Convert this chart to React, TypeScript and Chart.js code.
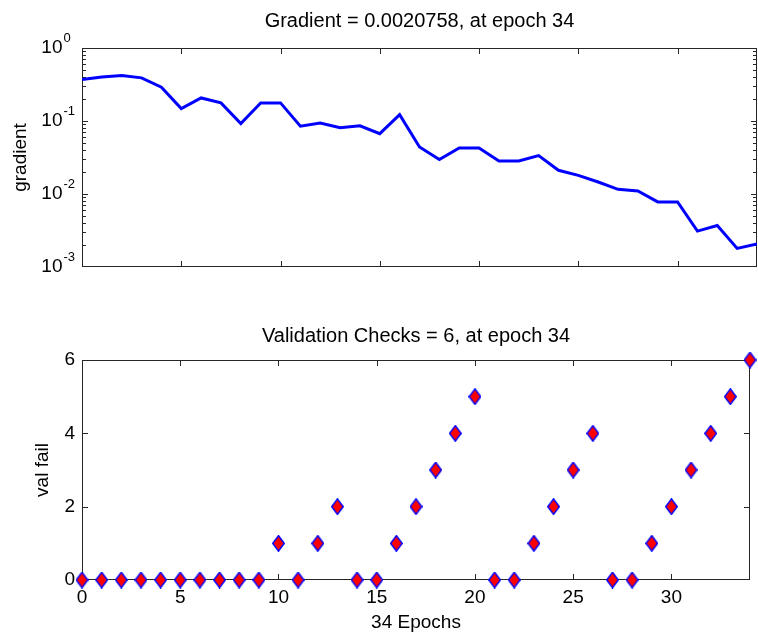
import React, { useEffect, useRef } from 'react';
import { Chart, registerables } from 'chart.js';

Chart.register(...registerables);

const FONT = "'Liberation Sans', Arial, sans-serif";

const epochs = [0, 1, 2, 3, 4, 5, 6, 7, 8, 9, 10, 11, 12, 13, 14, 15, 16, 17, 18, 19, 20, 21, 22, 23, 24, 25, 26, 27, 28, 29, 30, 31, 32, 33, 34];
const gradientValues = [
  0.37, 0.40, 0.42, 0.39, 0.29, 0.148, 0.207, 0.177, 0.092, 0.177,
  0.177, 0.085, 0.094, 0.081, 0.086, 0.067, 0.122, 0.044, 0.0296, 0.0427,
  0.0427, 0.0283, 0.0283, 0.0336, 0.0211, 0.018, 0.0146, 0.0116, 0.011, 0.0078,
  0.0078, 0.0031, 0.0037, 0.0018, 0.0020758,
];
const valFail = [0, 0, 0, 0, 0, 0, 0, 0, 0, 0, 1, 0, 1, 2, 0, 0, 1, 2, 3, 4, 5, 0, 0, 1, 2, 3, 4, 0, 0, 1, 2, 3, 4, 5, 6];
const xTicks = [0, 5, 10, 15, 20, 25, 30];
const gradExponents = [0, -1, -2, -3];
const valTicks = [0, 2, 4, 6];
const gradTitle = 'Gradient = 0.0020758, at epoch 34';
const valTitle = 'Validation Checks = 6, at epoch 34';
const gradLabel = 'gradient';
const valLabel = 'val fail';
const xLabel = '34 Epochs';

const AXIS_COLOR = '#262626';

function makeDiamond(): HTMLCanvasElement {
  const c = document.createElement('canvas');
  c.width = 13;
  c.height = 17;
  const g = c.getContext('2d')!;
  g.beginPath();
  g.moveTo(6.5, 0.75);
  g.lineTo(12.25, 8.5);
  g.lineTo(6.5, 16.25);
  g.lineTo(0.75, 8.5);
  g.closePath();
  g.fillStyle = '#ff0000';
  g.fill();
  g.strokeStyle = '#0000ff';
  g.lineWidth = 1.4;
  g.stroke();
  return c;
}

const framePlugin = {
  id: 'matlabFrame',
  beforeDatasetsDraw(chart: any, _args: any, opts: any) {
    const { ctx, chartArea } = chart;
    const { left, top, right, bottom } = chartArea;
    const xs = chart.scales.x;
    const ys = chart.scales.y;
    ctx.save();
    ctx.strokeStyle = AXIS_COLOR;
    ctx.lineWidth = 1;
    ctx.strokeRect(left + 0.5, top + 0.5, right - left - 1, bottom - top - 1);
    ctx.beginPath();
    const major = 6;
    const minor = 4;
    for (const v of xTicks) {
      if (v === 0) continue;
      const x = Math.round(xs.getPixelForValue(v)) + 0.5;
      ctx.moveTo(x, bottom);
      ctx.lineTo(x, bottom - major);
      ctx.moveTo(x, top);
      ctx.lineTo(x, top + major);
    }
    const yTick = (val: number, len: number) => {
      const y = Math.round(ys.getPixelForValue(val)) + 0.5;
      ctx.moveTo(left, y);
      ctx.lineTo(left + len, y);
      ctx.moveTo(right, y);
      ctx.lineTo(right - len, y);
    };
    if (opts.log) {
      for (const e of gradExponents) {
        const base = Math.pow(10, e);
        if (e !== 0 && e !== -3) yTick(base, major);
        if (e < 0) {
          for (let m = 2; m <= 9; m++) yTick(base * m, minor);
        }
      }
    } else {
      for (const v of valTicks) {
        if (v === 0 || v === 6) continue;
        yTick(v, major);
      }
    }
    ctx.stroke();
    ctx.restore();
  },
  afterDraw(chart: any, _args: any, opts: any) {
    if (!opts.log) return;
    const { ctx } = chart;
    const ys = chart.scales.y;
    ctx.save();
    ctx.fillStyle = '#000';
    ctx.textBaseline = 'middle';
    for (const e of gradExponents) {
      const y = ys.getPixelForValue(Math.pow(10, e));
      ctx.font = `19px ${FONT}`;
      ctx.textAlign = 'right';
      ctx.fillText('10', 62.5, y);
      ctx.font = `13px ${FONT}`;
      ctx.textAlign = 'left';
      ctx.fillText(String(e), 63.5, y - 10);
    }
    ctx.restore();
  },
};

export default function App() {
  const topRef = useRef<HTMLCanvasElement>(null);
  const botRef = useRef<HTMLCanvasElement>(null);

  useEffect(() => {
    const diamond = makeDiamond();

    const topChart = new Chart(topRef.current!, {
      type: 'line',
      data: {
        datasets: [
          {
            data: epochs.map((e, i) => ({ x: e, y: gradientValues[i] })),
            borderColor: '#0000ff',
            borderWidth: 3,
            pointRadius: 0,
            tension: 0,
            fill: false,
          },
        ],
      },
      options: {
        responsive: false,
        animation: false,
        devicePixelRatio: 1,
        layout: { padding: { left: 0, right: 1, top: 0, bottom: 0 } },
        plugins: {
          legend: { display: false },
          tooltip: { enabled: false },
          title: {
            display: true,
            text: gradTitle,
            fullSize: false,
            color: '#000',
            font: { family: FONT, size: 20, weight: 'normal' },
            padding: { top: 9, bottom: 15 },
          },
          matlabFrame: { log: true },
        } as any,
        scales: {
          x: {
            type: 'linear',
            min: 0,
            max: 34,
            ticks: { display: false },
            grid: { display: false, drawTicks: false },
            border: { display: false },
            afterFit: (s: any) => {
              s.height = 33;
            },
          },
          y: {
            type: 'logarithmic',
            min: 0.001,
            max: 1,
            ticks: { display: false },
            grid: { display: false, drawTicks: false },
            border: { display: false },
            title: {
              display: true,
              text: gradLabel,
              color: '#000',
              font: { family: FONT, size: 19 },
              padding: { top: 9.5, bottom: 0 },
            },
            afterFit: (s: any) => {
              s.width = 82;
            },
          },
        },
      },
      plugins: [framePlugin],
    });

    const botChart = new Chart(botRef.current!, {
      type: 'scatter',
      data: {
        datasets: [
          {
            data: epochs.map((e, i) => ({ x: e, y: valFail[i] })),
            pointStyle: diamond as any,
            pointRadius: 7,
            showLine: false,
            clip: false as any,
          },
        ],
      },
      options: {
        responsive: false,
        animation: false,
        devicePixelRatio: 1,
        layout: { padding: { left: 0, right: 1, top: 0, bottom: 0 } },
        plugins: {
          legend: { display: false },
          tooltip: { enabled: false },
          title: {
            display: true,
            text: valTitle,
            fullSize: false,
            color: '#000',
            font: { family: FONT, size: 20, weight: 'normal' },
            padding: { top: 24, bottom: 12 },
          },
          matlabFrame: { log: false },
        } as any,
        scales: {
          x: {
            type: 'linear',
            min: 0,
            max: 34,
            afterBuildTicks: (s: any) => {
              s.ticks = xTicks.map((v) => ({ value: v }));
            },
            ticks: {
              color: '#000',
              font: { family: FONT, size: 19 },
              padding: 6,
              autoSkip: false,
              maxRotation: 0,
            },
            grid: { display: false, drawTicks: false },
            border: { display: false },
            title: {
              display: true,
              text: xLabel,
              color: '#000',
              font: { family: FONT, size: 19 },
              padding: { top: 0, bottom: 1 },
            },
            afterFit: (s: any) => {
              s.height = 55;
            },
          },
          y: {
            type: 'linear',
            min: 0,
            max: 6,
            afterBuildTicks: (s: any) => {
              s.ticks = valTicks.map((v) => ({ value: v }));
            },
            ticks: {
              color: '#000',
              font: { family: FONT, size: 19 },
              padding: 7,
            },
            grid: { display: false, drawTicks: false },
            border: { display: false },
            title: {
              display: true,
              text: valLabel,
              color: '#000',
              font: { family: FONT, size: 19 },
              padding: { top: 31, bottom: 0 },
            },
            afterFit: (s: any) => {
              s.width = 82;
            },
          },
        },
      },
      plugins: [framePlugin],
    });

    return () => {
      topChart.destroy();
      botChart.destroy();
    };
  }, []);

  return (
    <div style={{ position: 'absolute', left: 0, top: 0, width: 758, height: 635, background: '#fff' }}>
      <canvas ref={topRef} width={758} height={300} style={{ position: 'absolute', left: 0, top: 0 }} />
      <canvas ref={botRef} width={758} height={335} style={{ position: 'absolute', left: 0, top: 300 }} />
    </div>
  );
}
